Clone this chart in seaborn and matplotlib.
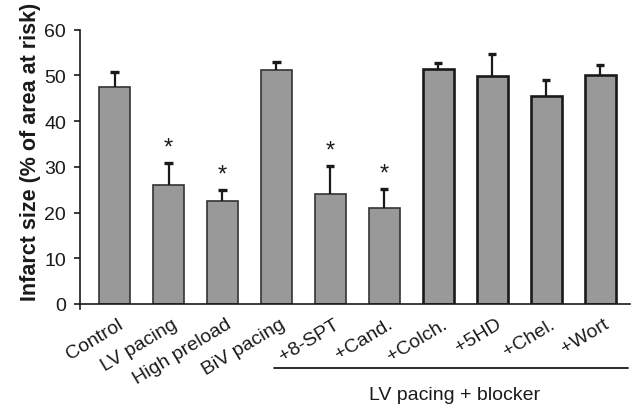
import matplotlib
matplotlib.use("Agg")
import matplotlib.pyplot as plt
import seaborn as sns
import numpy as np
import pandas as pd
from matplotlib.transforms import blended_transform_factory, ScaledTranslation

categories = ["Control", "LV pacing", "High preload", "BiV pacing", "+8-SPT",
              "+Cand.", "+Colch.", "+5HD", "+Chel.", "+Wort"]
means = [47.5, 26.0, 22.5, 51.1, 24.0, 21.1, 51.3, 49.8, 45.5, 50.2]
errors = [3.3, 4.8, 2.4, 1.9, 6.1, 4.0, 1.5, 4.9, 3.6, 2.0]
significant = [False, True, True, False, True, True, False, False, False, False]
group_label = "LV pacing + blocker"
y_label = "Infarct size (% of area at risk)"
y_ticks = [0, 10, 20, 30, 40, 50, 60]

sns.set_theme(style="white")
plt.rcParams['font.family'] = ['Liberation Sans', 'DejaVu Sans']

fig = plt.figure(figsize=(6.35, 4.1), dpi=100)
ax = fig.add_axes([80/635, 1-305/410, 550/635, 274.3/410])

df = pd.DataFrame({"cat": categories, "val": means})
sns.barplot(data=df, x="cat", y="val", color="#999999", saturation=1,
            width=0.57, edgecolor="#333333", linewidth=1.2, ax=ax, errorbar=None)
for i, p in enumerate(ax.patches):
    if i >= 6:
        p.set_linewidth(1.9)
        p.set_edgecolor("#1a1a1a")

x = np.arange(len(categories))
tops = np.array(means) + np.array(errors)
cap = 0.075
ax.vlines(x, means, tops, color="#1a1a1a", lw=1.6, zorder=3)
ax.hlines(tops, x - cap, x + cap, color="#1a1a1a", lw=2.4, zorder=3)

for i, (m, e, s) in enumerate(zip(means, errors, significant)):
    if s:
        ax.text(i, m + e + 1.0, "*", ha="center", va="bottom", fontsize=17,
                color="#1a1a1a")

ax.set_xlim(-0.64, 9.55)
ax.set_ylim(0, 60)
ax.set_yticks(y_ticks)
ax.set_yticklabels([str(t) for t in y_ticks], fontsize=14, color="#1a1a1a")
ax.set_xticks(x)
ax.set_xticklabels(categories, rotation=31, ha="right", rotation_mode="anchor",
                   fontsize=14, color="#1a1a1a")
ax.tick_params(axis="y", which="both", left=True, length=4, width=1.2,
               pad=6, color="#1a1a1a")
ax.tick_params(axis="x", bottom=False, length=0, pad=8)
offset = ScaledTranslation(3/100, 0, fig.dpi_scale_trans)
for lab in ax.get_xticklabels():
    lab.set_transform(lab.get_transform() + offset)
ax.set_xlabel("")
ax.set_ylabel(y_label, fontsize=15.5, fontweight="bold", color="#1a1a1a")
ax.yaxis.set_label_coords(-0.071, 0.56)

for side in ["top", "right"]:
    ax.spines[side].set_visible(False)
for side in ["left", "bottom"]:
    ax.spines[side].set_color("#1a1a1a")
    ax.spines[side].set_linewidth(1.2)
ax.spines["left"].set_bounds(-1.2, 60)
ax.set_ylim(0, 60)

trans = blended_transform_factory(ax.transData, ax.transAxes)
ax.plot([2.95, 9.52], [-0.234, -0.234], color="#1a1a1a", lw=1.3,
        transform=trans, clip_on=False)
ax.text(6.3, -0.33, group_label, transform=trans, ha="center", va="center",
        fontsize=14, color="#1a1a1a")

fig.savefig("out.png", dpi=100)
